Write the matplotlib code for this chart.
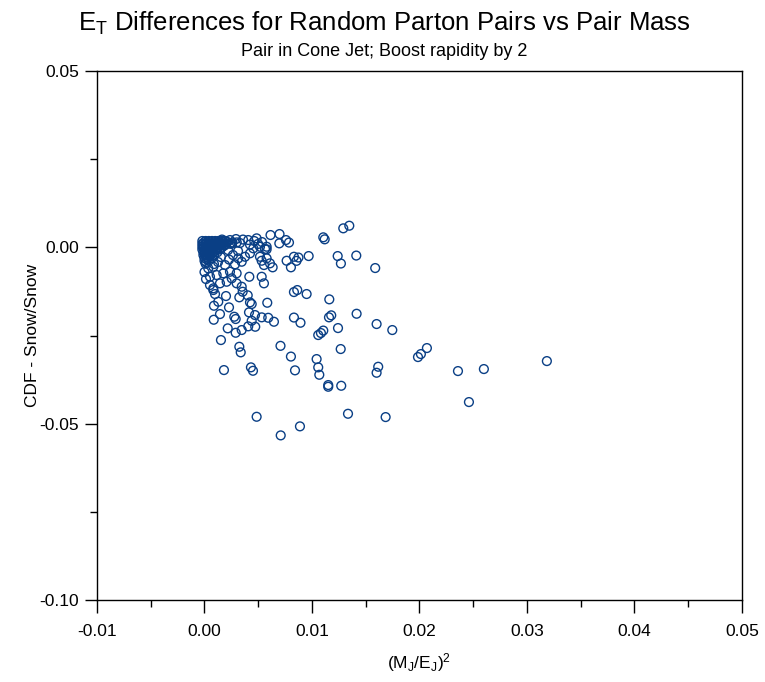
import numpy as np
import matplotlib
matplotlib.use("Agg")
import matplotlib.pyplot as plt

plt.rcParams['font.family'] = ['Liberation Sans', 'DejaVu Sans']
plt.rcParams['mathtext.fontset'] = 'custom'
plt.rcParams['mathtext.rm'] = 'Liberation Sans'
plt.rcParams['mathtext.it'] = 'Liberation Sans'
plt.rcParams['axes.unicode_minus'] = False

# pair values, listed in units of 1e-3
# dense core near zero
core_x = [-0.2, 0.1, 0.4, 0.7, 1.0, 1.3, 1.6, 1.9,
          -0.05, 0.25, 0.55, 0.85, 1.15, 1.45, 1.75, 2.1, 2.6, 3.0,
          -0.2, 0.1, 0.4, 0.7, 1.0, 1.3, 1.6, 2.0, 2.4,
          -0.05, 0.25, 0.55, 0.85, 1.15, 1.5, 1.9,
          -0.2, 0.1, 0.4, 0.7, 1.0, 1.3, 1.7,
          -0.05, 0.25, 0.55, 0.85, 1.2, 1.55,
          -0.2, 0.1, 0.4, 0.7, 1.0, 1.4,
          0.05, 0.35, 0.65, 1.0,
          -0.1, 0.2, 0.5, 0.8, 1.2,
          0.05, 0.35, 0.7,
          -0.1, 0.2, 0.5, 0.9,
          0.15, 0.5,
          0.0, 0.3, 0.7,
          0.2,
          0.0, 0.4,
          0.1]
core_y = [1.8, 1.8, 1.8, 1.8, 1.8, 1.8, 1.8, 1.8,
          1.4, 1.4, 1.4, 1.4, 1.4, 1.4, 1.4, 1.4, 1.4, 1.4,
          1.0, 1.0, 1.0, 1.0, 1.0, 1.0, 1.0, 1.0, 1.0,
          0.6, 0.6, 0.6, 0.6, 0.6, 0.6, 0.6,
          0.2, 0.2, 0.2, 0.2, 0.2, 0.2, 0.2,
          -0.2, -0.2, -0.2, -0.2, -0.2, -0.2,
          -0.6, -0.6, -0.6, -0.6, -0.6, -0.6,
          -1.0, -1.0, -1.0, -1.0,
          -1.4, -1.4, -1.4, -1.4, -1.4,
          -1.8, -1.8, -1.8,
          -2.2, -2.2, -2.2, -2.2,
          -2.6, -2.6,
          -3.0, -3.0, -3.0,
          -3.4,
          -3.8, -3.8,
          -4.6]

# arm along the top of the core
arm_x = [2.37, 2.93, 3.58, 4.07, 4.63, 4.85, 5.35, 5.78, 5.63, 4.98, 4.23, 3.30, 2.56, 2.00, 1.63,
         2.19, 2.65, 2.28, 3.12, 1.53, 1.26, 0.88, 0.14, 0.00, 0.14]
arm_y = [2.07, 2.35, 2.21, 2.07, 1.79, 2.55, 1.50, 0.17, -0.48, 0.94, 0.79, 1.22, 1.08, 1.79, 2.21,
         -0.77, -2.18, -3.46, -1.05, -2.75, -4.17, -4.74, -4.17, -7.00, -8.99]

# points just below the core
near_x = [0.51, 0.82, 1.44, 2.06, 2.53, 2.99, 3.46, 2.99, 2.37, 1.75, 1.13, 0.51, 0.35, 0.82,
          1.91, 2.84, 3.46, 3.77, 3.14, 4.23, 4.54, 4.17, 5.32, 5.53]
near_y = [-10.69, -11.63, -10.21, -9.76, -8.79, -10.21, -11.17, -7.37, -6.92, -7.37, -7.86, -8.34,
          -5.96, -5.50, -5.02, -4.82, -4.08, -2.67, -3.12, -1.70, -0.28, -8.34, -8.34, -10.21]

# lower left spread
low_x = [0.82, 0.98, 1.28, 2.00, 3.24, 3.55, 4.02, 4.23, 4.39, 0.88, 2.28, 5.84, 1.44, 0.86,
         2.77, 2.90, 4.14, 4.70, 4.39, 5.32, 5.93, 6.46, 2.16, 2.90, 3.46, 4.07, 4.72]
low_y = [-12.11, -13.24, -15.43, -13.81, -14.18, -12.59, -13.61, -15.60, -16.08, -16.56, -17.02,
         -15.71, -18.92, -20.53, -19.68, -20.33, -18.43, -19.20, -20.82, -19.85, -19.97, -21.10,
         -22.97, -24.22, -23.45, -22.40, -22.52]

# outer scatter
outer_x = [12.91, 13.47, 11.05, 11.18, 7.58, 7.86, 6.14, 6.98, 6.96, 12.39, 12.69, 14.12, 15.88,
           8.32, 8.74, 8.56, 8.04, 7.64, 9.69, 6.34, 5.78, 6.09, 5.16, 5.32, 5.53, 5.16, 5.78,
           8.32, 8.63, 9.50, 11.61, 8.32, 8.93, 11.58, 11.79, 14.15, 16.01, 17.47, 10.58, 10.83,
           11.05, 12.42, 1.53, 3.24, 3.37, 7.07, 8.04, 10.43, 10.58, 10.68, 12.67, 1.81, 4.32,
           4.51, 8.42, 11.51, 11.51, 12.72, 16.16, 16.01, 4.85, 8.88, 7.09, 13.35, 16.85, 19.86,
           20.13, 20.69, 23.58, 25.99, 31.85, 24.60]
outer_y = [5.39, 6.13, 2.84, 2.27, 2.07, 1.36, 3.49, 3.77, 1.13, -2.47, -4.59, -2.33, -5.87,
           -2.67, -2.89, -3.83, -5.67, -3.80, -2.47, -5.67, -3.12, -4.54, -2.67, -3.80, -5.02,
           0.17, -0.57, -12.68, -12.11, -13.24, -14.75, -19.91, -21.38, -19.85, -19.28, -18.83,
           -21.75, -23.45, -24.87, -24.30, -23.60, -22.89, -26.29, -28.19, -29.78, -27.93, -30.97,
           -31.68, -34.03, -36.13, -28.84, -34.80, -34.03, -35.00, -34.88, -39.05, -39.53, -39.25,
           -33.86, -35.56, -48.04, -50.76, -53.32, -47.19, -48.13, -31.11, -30.26, -28.56, -35.08,
           -34.51, -32.25, -43.87]

mass_sq = np.array(core_x + arm_x + near_x + low_x + outer_x) / 1000.0
et_diff = np.array(core_y + arm_y + near_y + low_y + outer_y) / 1000.0

fig = plt.figure(figsize=(7.65, 6.82), dpi=100)
ax = fig.add_axes([0.1268, 0.1202, 0.8431, 0.7757])

ax.scatter(mass_sq, et_diff, s=40, facecolors='none', edgecolors='#0a3f85', linewidths=1.0)

ax.set_xlim(-0.01, 0.05)
ax.set_ylim(-0.10, 0.05)
ax.set_xticks(np.arange(-0.01, 0.0501, 0.01))
ax.set_xticks(np.arange(-0.01, 0.0501, 0.005), minor=True)
ax.set_yticks([-0.10, -0.05, 0.00, 0.05])
ax.set_yticks([-0.10, -0.075, -0.05, -0.025, 0.0, 0.025, 0.05], minor=True)
ax.xaxis.set_major_formatter(matplotlib.ticker.FormatStrFormatter('%.2f'))
ax.yaxis.set_major_formatter(matplotlib.ticker.FormatStrFormatter('%.2f'))
ax.tick_params(which='major', direction='out', length=9, width=1, labelsize=12.5)
ax.tick_params(axis='x', which='major', pad=8)
ax.tick_params(axis='y', which='major', pad=4)
ax.tick_params(which='minor', direction='out', length=5, width=1)
for sp in ax.spines.values():
    sp.set_linewidth(1.0)

fig.text(0.548, 0.029, r'$\mathregular{(M_J/E_J)^2}$', ha='center', va='center', fontsize=12.5)
fig.text(0.043, 0.508, 'CDF - Snow/Snow', ha='center', va='center', rotation=90, fontsize=12.5)

fig.text(0.502, 0.966, r'$\mathregular{E_T}$ Differences for Random Parton Pairs vs Pair Mass',
         ha='center', va='center', fontsize=18.5)
fig.text(0.502, 0.924, 'Pair in Cone Jet; Boost rapidity by 2', ha='center', va='center', fontsize=13)

fig.savefig('out.png', dpi=100)
